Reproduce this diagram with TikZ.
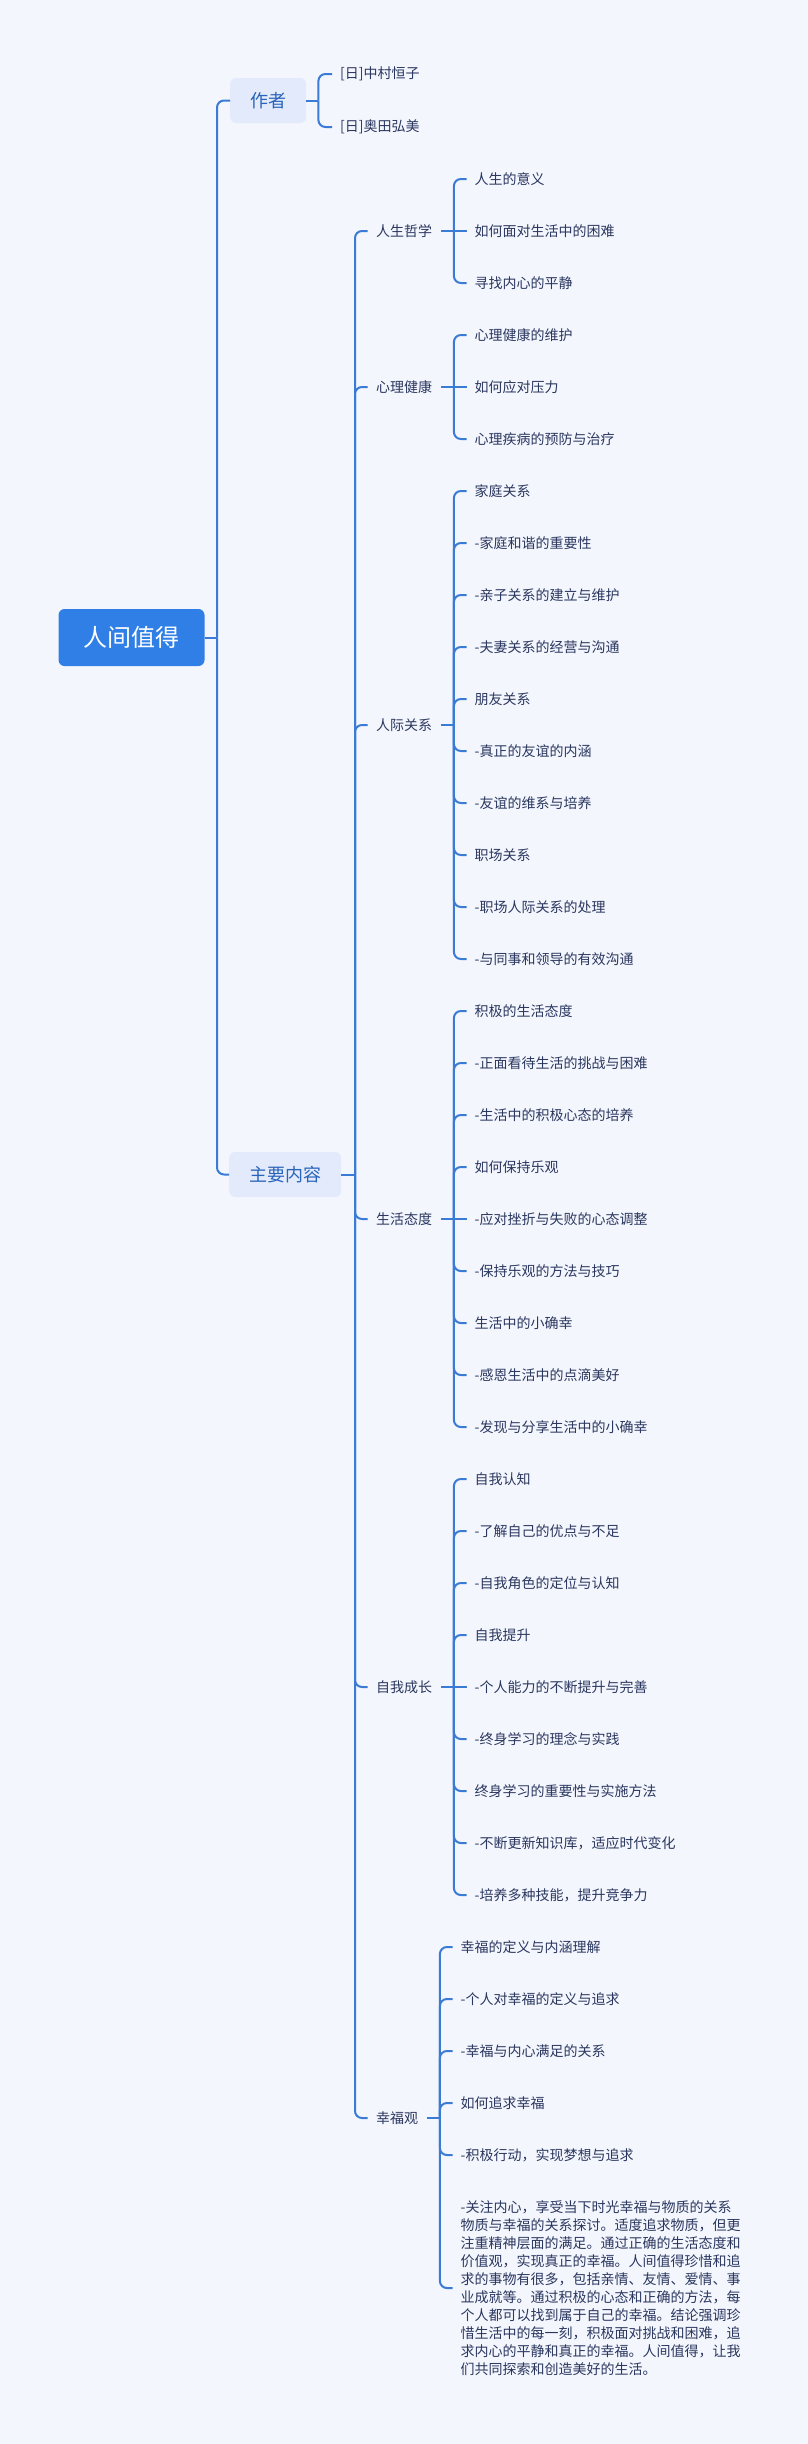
\documentclass[tikz,border=0pt]{standalone}
\usepackage{fontspec}
\setmainfont{Noto Sans CJK SC}
\usetikzlibrary{calc}
\definecolor{bgc}{HTML}{F4F6FE}
\definecolor{linec}{HTML}{3A7BD5}
\definecolor{rootc}{HTML}{2F7FE6}
\definecolor{lonec}{HTML}{E2EAFB}
\definecolor{lonet}{HTML}{2A64BA}
\definecolor{leaft}{HTML}{2A375E}
\tikzset{
  conn/.style={draw=linec, line width=2pt, rounded corners=7pt},
  rootbox/.style={fill=rootc, text=white, rounded corners=6pt, font=\fontsize{24}{28}\selectfont, minimum height=57pt, inner xsep=25pt},
  lonebox/.style={fill=lonec, text=lonet, rounded corners=6pt, font=\fontsize{18}{22}\selectfont, minimum height=45pt, inner xsep=20pt, anchor=west},
  ltwo/.style={text=leaft, font=\fontsize{14}{17}\selectfont, inner xsep=8.5pt, anchor=west},
  leaf/.style={text=leaft, font=\fontsize{14}{17}\selectfont, inner xsep=8pt, anchor=west},
}
\newcommand\leafgroup[5]{% #1 id, #2 x, #3 first y, #4 middle index, #5 list
  \foreach \t [count=\i from 0] in {#5}{
    \pgfmathsetmacro\yy{#3+52*\i}
    \node[leaf] (p#1-\i) at (#2,\yy) {\t};
    \ifnum\i=#4\relax
      \draw[conn] (k#1) -- (p#1-\i.west);
    \else
      \draw[conn] (k#1) -- (k#1 |- p#1-\i.west) -- (p#1-\i.west);
    \fi
  }
}
\begin{document}
\begin{tikzpicture}[x=1pt,y=-1pt]
\fill[bgc] (0,0) rectangle (808,2444);
\useasboundingbox (0,0) rectangle (808,2444);

% root and level 1
\node[rootbox] (root) at (131.5,637.5) {人间值得};
\node[lonebox] (zz) at (230,100.5) {作者};
\node[lonebox] (zy) at (229,1174.5) {主要内容};
\coordinate (j1) at (217,637.5);
\draw[conn] (root.east) -- (j1);
\draw[conn] (j1) -- (j1 |- zz.west) -- (zz.west);
\draw[conn] (j1) -- (j1 |- zy.west) -- (zy.west);

% authors
\coordinate (ja) at ($(zz.east)+(12,0)$);
\draw[conn] (zz.east) -- (ja);
\node[leaf] (a1) at (332,74) {[日]中村恒子};
\node[leaf] (a2) at (332,127) {[日]奥田弘美};
\draw[conn] (ja) -- (ja |- a1.west) -- (a1.west);
\draw[conn] (ja) -- (ja |- a2.west) -- (a2.west);

% level 2
\coordinate (j2) at (355,1174.5);
\draw[conn] (zy.east) -- (j2);
\node[ltwo] (m1) at (367.5,231) {人生哲学};
\node[ltwo] (m2) at (367.5,387) {心理健康};
\node[ltwo] (m3) at (367.5,725) {人际关系};
\node[ltwo] (m4) at (367.5,1219) {生活态度};
\node[ltwo] (m5) at (367.5,1687) {自我成长};
\node[ltwo] (m6) at (367.5,2118) {幸福观};
\foreach \m in {m1,m2,m3,m4,m5,m6}{
  \draw[conn] (j2) -- (j2 |- \m.west) -- (\m.west);
}
\foreach \n in {1,...,6}{
  \coordinate (k\n) at ($(m\n.east)+(13,0)$);
  \draw[conn] (m\n.east) -- (k\n);
}

\leafgroup{1}{466.5}{179}{1}{人生的意义,如何面对生活中的困难,寻找内心的平静}
\leafgroup{2}{466.5}{335}{1}{心理健康的维护,如何应对压力,心理疾病的预防与治疗}
\leafgroup{3}{466.5}{491}{-1}{家庭关系,-家庭和谐的重要性,-亲子关系的建立与维护,-夫妻关系的经营与沟通,朋友关系,-真正的友谊的内涵,-友谊的维系与培养,职场关系,-职场人际关系的处理,-与同事和领导的有效沟通}
\leafgroup{4}{466.5}{1011}{4}{积极的生活态度,-正面看待生活的挑战与困难,-生活中的积极心态的培养,如何保持乐观,-应对挫折与失败的心态调整,-保持乐观的方法与技巧,生活中的小确幸,-感恩生活中的点滴美好,-发现与分享生活中的小确幸}
\leafgroup{5}{466.5}{1479}{4}{自我认知,-了解自己的优点与不足,-自我角色的定位与认知,自我提升,-个人能力的不断提升与完善,-终身学习的理念与实践,终身学习的重要性与实施方法,-不断更新知识库，适应时代变化,-培养多种技能，提升竞争力}

% happiness group
\node[leaf] (q1) at (452.5,1947) {幸福的定义与内涵理解};
\node[leaf] (q2) at (452.5,1999) {-个人对幸福的定义与追求};
\node[leaf] (q3) at (452.5,2051) {-幸福与内心满足的关系};
\node[leaf] (q4) at (452.5,2103) {如何追求幸福};
\node[leaf] (q5) at (452.5,2155) {-积极行动，实现梦想与追求};
\node[leaf, align=left, font=\fontsize{14}{18}\selectfont] (q6) at (452.5,2288) {-关注内心，享受当下时光幸福与物质的关系\\物质与幸福的关系探讨。适度追求物质，但更\\注重精神层面的满足。通过正确的生活态度和\\价值观，实现真正的幸福。人间值得珍惜和追\\求的事物有很多，包括亲情、友情、爱情、事\\业成就等。通过积极的心态和正确的方法，每\\个人都可以找到属于自己的幸福。结论强调珍\\惜生活中的每一刻，积极面对挑战和困难，追\\求内心的平静和真正的幸福。人间值得，让我\\们共同探索和创造美好的生活。};
\foreach \q in {q1,q2,q3,q4,q5,q6}{
  \draw[conn] (k6) -- (k6 |- \q.west) -- (\q.west);
}
\end{tikzpicture}
\end{document}
